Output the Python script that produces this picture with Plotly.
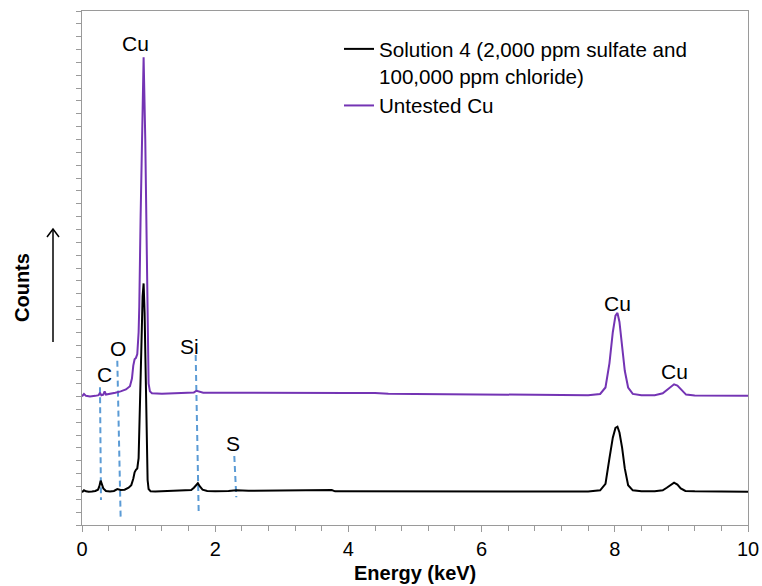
import plotly.graph_objects as go

# ---- Spectrum data (Energy keV, relative counts) ----
energy_sol4 = [0.00, 0.03, 0.06, 0.10, 0.15, 0.20, 0.24, 0.26, 0.28, 0.30, 0.32, 0.36,
               0.42, 0.48, 0.53, 0.58, 0.64, 0.70, 0.74, 0.77, 0.79, 0.81, 0.83, 0.85,
               0.87, 0.89, 0.91, 0.925, 0.94, 0.955, 0.97, 0.985, 1.00, 1.03, 1.10,
               1.25, 1.40, 1.55, 1.64, 1.68, 1.71, 1.74, 1.77, 1.81, 1.88, 2.00, 2.20,
               2.32, 2.50, 2.80, 3.10, 3.40, 3.60, 3.75, 3.80, 4.20, 4.80, 5.40, 6.00,
               6.60, 7.20, 7.60, 7.78, 7.86, 7.92, 7.97, 8.01, 8.04, 8.07, 8.11, 8.15,
               8.20, 8.27, 8.40, 8.60, 8.72, 8.78, 8.84, 8.89, 8.94, 8.99, 9.06, 9.20,
               9.60, 10.00]
counts_sol4 = [2.55, 2.70, 2.62, 2.58, 2.60, 2.65, 2.75, 3.00, 3.45, 3.20, 2.85, 2.65,
               2.60, 2.65, 2.80, 2.72, 2.75, 2.90, 3.10, 3.60, 4.10, 4.30, 4.40, 5.20,
               8.50, 13.5, 17.8, 18.8, 16.5, 11.0, 6.00, 3.50, 2.80, 2.62, 2.60,
               2.62, 2.66, 2.65, 2.72, 2.90, 3.10, 3.25, 3.00, 2.75, 2.65, 2.62, 2.65,
               2.70, 2.66, 2.68, 2.70, 2.72, 2.72, 2.72, 2.62, 2.61, 2.60, 2.61, 2.60,
               2.60, 2.61, 2.60, 2.70, 3.20, 5.20, 6.80, 7.55, 7.65, 7.20, 6.00, 4.40,
               3.10, 2.70, 2.62, 2.62, 2.70, 2.90, 3.15, 3.30, 3.15, 2.85, 2.65, 2.62,
               2.60, 2.58]

energy_untested = [0.00, 0.03, 0.06, 0.12, 0.20, 0.25, 0.27, 0.29, 0.32, 0.34, 0.36,
                   0.42, 0.50, 0.58, 0.66, 0.72, 0.75, 0.77, 0.79, 0.81, 0.83, 0.85,
                   0.86, 0.88, 0.90, 0.925, 0.95, 0.97, 0.985, 1.00, 1.02, 1.05, 1.20,
                   1.40, 1.60, 1.68, 1.72, 1.76, 1.82, 2.00, 2.40, 2.60, 2.80, 3.20,
                   3.60, 4.00, 4.40, 4.60, 5.00, 5.60, 6.20, 6.80, 7.30, 7.60, 7.78,
                   7.86, 7.92, 7.97, 8.01, 8.04, 8.07, 8.11, 8.15, 8.20, 8.27, 8.40,
                   8.60, 8.72, 8.79, 8.85, 8.89, 8.94, 9.00, 9.07, 9.20, 9.60, 10.00]
counts_untested = [10.0, 10.2, 10.05, 10.0, 10.05, 10.1, 10.3, 10.1, 10.15, 10.4, 10.15,
                   10.2, 10.3, 10.4, 10.55, 10.8, 11.4, 12.4, 12.9, 13.0, 13.3, 15.0,
                   17.0, 24.0, 31.0, 36.4, 30.0, 22.0, 15.0, 11.0, 10.4, 10.25, 10.22,
                   10.25, 10.28, 10.32, 10.45, 10.40, 10.30, 10.30, 10.30, 10.33, 10.32, 10.30,
                   10.30, 10.28, 10.27, 10.22, 10.20, 10.18, 10.15, 10.12, 10.10, 10.10, 10.20,
                   10.70, 12.60, 15.0, 16.3, 16.5, 15.8, 14.0, 12.0, 10.7, 10.2, 10.1,
                   10.1, 10.25, 10.55, 10.85, 10.95, 10.85, 10.5, 10.15, 10.08, 10.05, 10.05]

# ---- Element marker lines (dashed) and labels ----
marker_x_top = [0.27, 0.53, 1.707, 2.287]
marker_y_top = [10.72, 12.79, 13.23, 5.37]
marker_x_bot = [0.285, 0.58, 1.752, 2.317]
marker_y_bot = [1.95, 0.60, 0.99, 2.16]

label_text = ["Cu", "Cu", "Cu", "C", "O", "Si", "S"]
label_x = [0.80, 8.04, 8.89, 0.345, 0.533, 1.62, 2.27]
label_y = [37.5, 17.24, 11.95, 11.75, 13.77, 13.93, 6.38]

x_tick_vals = [0, 2, 4, 6, 8, 10]
x_tick_text = ["0", "2", "4", "6", "8", "10"]

series_names = ["Solution 4 (2,000 ppm sulfate and<br>100,000 ppm chloride)", "Untested Cu"]

FONT = "Liberation Sans, Arial, sans-serif"
AXIS_GREY = "#9a9a9a"
PURPLE = "#7434B4"
DASH_BLUE = "#5B9BD5"

fig = go.Figure()

for i in range(len(marker_x_top)):
    fig.add_trace(go.Scatter(
        x=[marker_x_top[i], marker_x_bot[i]], y=[marker_y_top[i], marker_y_bot[i]],
        mode="lines", line=dict(color=DASH_BLUE, width=2, dash="6px,4px"),
        showlegend=False, hoverinfo="skip"))

fig.add_trace(go.Scatter(x=energy_untested, y=counts_untested, mode="lines",
                         name=series_names[1], line=dict(color=PURPLE, width=2),
                         legendrank=2))
fig.add_trace(go.Scatter(x=energy_sol4, y=counts_sol4, mode="lines",
                         name=series_names[0], line=dict(color="#000000", width=2),
                         legendrank=1))

for t, x, y in zip(label_text, label_x, label_y):
    fig.add_annotation(x=x, y=y, text=t, showarrow=False, xref="x", yref="y",
                       font=dict(family=FONT, size=21, color="#000"),
                       xanchor="center", yanchor="middle")

# plot area in pixels
L, R, T, B = 82, 748, 11, 525
W, H = 762, 586


def px_x(p):
    return (p - L) / (R - L)


def px_y(p):
    return (B - p) / (B - T)


# Y-axis title "Counts" and upward arrow
fig.add_annotation(x=px_x(22), y=px_y(288), xref="paper", yref="paper", text="<b>Counts</b>",
                   textangle=-90, showarrow=False, font=dict(family=FONT, size=20, color="#000"),
                   xanchor="center", yanchor="middle")
fig.add_shape(type="line", xref="paper", yref="paper", x0=px_x(53), x1=px_x(53),
              y0=px_y(342), y1=px_y(229), line=dict(color="#000", width=1.5))
fig.add_shape(type="path", xref="paper", yref="paper",
              path=f"M {px_x(47)},{px_y(237)} L {px_x(53)},{px_y(229)} L {px_x(59)},{px_y(237)}",
              line=dict(color="#000", width=1.5))

# X-axis title
fig.add_annotation(x=0.5, y=px_y(573), xref="paper", yref="paper", text="<b>Energy (keV)</b>",
                   showarrow=False, font=dict(family=FONT, size=20, color="#000"),
                   xanchor="center", yanchor="middle")

fig.update_layout(
    width=W, height=H, autosize=False,
    margin=dict(l=L, r=W - R, t=T, b=H - B, pad=0, autoexpand=False),
    plot_bgcolor="white", paper_bgcolor="white",
    font=dict(family=FONT, size=20, color="#000"),
    showlegend=True,
    legend=dict(x=px_x(339), y=px_y(29), xanchor="left", yanchor="top",
                bgcolor="rgba(0,0,0,0)", font=dict(family=FONT, size=20.6, color="#000"),
                valign="top", tracegroupgap=0, itemwidth=30),
    xaxis=dict(range=[0, 10], tickvals=x_tick_vals, ticktext=x_tick_text,
               ticks="outside", ticklen=6, tickcolor=AXIS_GREY, tickwidth=1,
               minor=dict(dtick=0.4, ticks="outside", ticklen=5, tickcolor=AXIS_GREY),
               showline=True, linecolor=AXIS_GREY, linewidth=1, mirror=True,
               showgrid=False, zeroline=False, automargin=False,
               tickfont=dict(family=FONT, size=20, color="#000")),
    yaxis=dict(range=[0, 40], dtick=1, ticks="outside", ticklen=5, tickcolor=AXIS_GREY,
               showticklabels=False, showline=True, linecolor=AXIS_GREY, linewidth=1,
               mirror=True, showgrid=False, zeroline=False, automargin=False),
)

fig.write_html("out.html")
